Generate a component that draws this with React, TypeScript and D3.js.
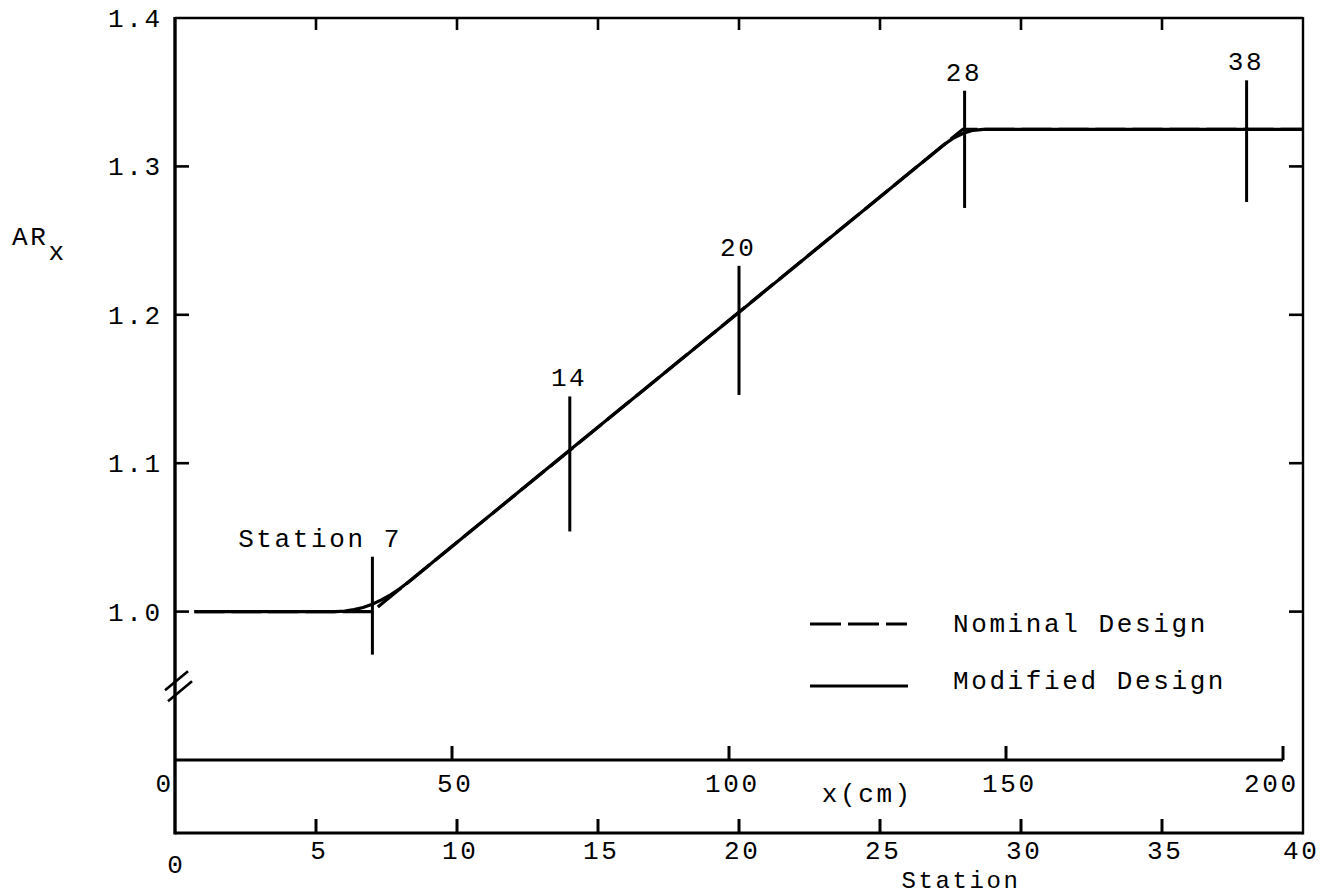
import React from 'react';
import * as d3 from 'd3';

// ---- data ----
const yTicks = [1.0, 1.1, 1.2, 1.3, 1.4];
const yTickLabels = ['1.0', '1.1', '1.2', '1.3', '1.4'];
const cmTicks = [0, 50, 100, 150, 200];
const stationTicks = [0, 5, 10, 15, 20, 25, 30, 35, 40];

// Nominal design (dashed): x in cm, AR_x
const nominalX = [3.5, 35.6, 142.2, 203.6];
const nominalY = [1.0, 1.0, 1.325, 1.325];

// Modified design (solid): rounded corners near stations 7 and 28
const modifiedX = [3.5, 29, 30.65, 32.3, 33.95, 35.6, 37.25, 38.9, 40.55, 42.2, 71, 101.6, 138.5, 140.35, 142.2, 144.05, 145.9, 203.6];
const modifiedY = [1.0, 1.0, 1.0003, 1.0013, 1.0028, 1.005, 1.0079, 1.0113, 1.0154, 1.0201, 1.108, 1.201, 1.3138, 1.3187, 1.3222, 1.3243, 1.325, 1.325];

// Station markers
const markerStations = [7, 14, 20, 28, 38];
const markerLabels = ['Station 7', '14', '20', '28', '38'];
const markerTop = [1.037, 1.145, 1.233, 1.351, 1.358];
const markerBottom = [0.971, 1.054, 1.146, 1.272, 1.276];

const FONT = '"Liberation Mono", "Courier New", monospace';

export default function App() {
  const left = 175;
  const right = 1303;
  const top = 18;
  const cmAxisY = 760;
  const stationAxisY = 833;

  const y = d3.scaleLinear().domain([0.9, 1.4]).range([cmAxisY, top]);
  const xCm = d3.scaleLinear().domain([0, 200]).range([left, 1283]);
  const xSt = d3.scaleLinear().domain([0, 40]).range([left, right]);

  const line = d3
    .line<[number, number]>()
    .x((d) => xCm(d[0]))
    .y((d) => y(d[1]));

  const nominal = nominalX.map((v, i) => [v, nominalY[i]] as [number, number]);
  const modified = modifiedX.map((v, i) => [v, modifiedY[i]] as [number, number]);

  const breakY = y(0.953);
  const tickLen = 14;
  const fs = 26;
  const ls = 2.6;

  return (
    <svg
      width={1322}
      height={895}
      style={{ position: 'absolute', left: 0, top: 0, background: '#fff' }}
      fontFamily={FONT}
      fontSize={fs}
      letterSpacing={ls}
    >
      <rect x={0} y={0} width={1322} height={895} fill="#fff" />
      {/* frame */}
      <line x1={left} y1={top} x2={right} y2={top} stroke="#000" strokeWidth={2.6} />
      <line x1={left} y1={top - 1} x2={left} y2={stationAxisY + 1.5} stroke="#000" strokeWidth={3.4} />
      <line x1={right} y1={top - 1} x2={right} y2={stationAxisY + 1.5} stroke="#000" strokeWidth={2.4} />

      {/* top ticks at station positions */}
      {stationTicks.slice(1, -1).map((s) => (
        <line key={'tt' + s} x1={xSt(s)} x2={xSt(s)} y1={top} y2={top + 12} stroke="#000" strokeWidth={2.6} />
      ))}

      {/* left & right y ticks */}
      {yTicks.slice(0, -1).map((v) => (
        <g key={'yt' + v}>
          <line x1={left} x2={left + tickLen} y1={y(v)} y2={y(v)} stroke="#000" strokeWidth={2.6} />
          <line x1={right - tickLen} x2={right} y1={y(v)} y2={y(v)} stroke="#000" strokeWidth={2.6} />
        </g>
      ))}
      {yTicks.map((v, i) => (
        <text key={'yl' + v} x={160 + ls} y={y(v) + 9} textAnchor="end">
          {yTickLabels[i]}
        </text>
      ))}

      {/* y axis title */}
      <text x={12} y={245}>
        AR
        <tspan dy={15}>x</tspan>
      </text>

      {/* axis break marks */}
      <line x1={left - 10} y1={breakY + 9} x2={left + 13} y2={breakY - 10} stroke="#000" strokeWidth={2.6} />
      <line x1={left - 7} y1={breakY + 20} x2={left + 17} y2={breakY} stroke="#000" strokeWidth={2.6} />

      {/* cm axis */}
      <line x1={left} x2={xCm(200)} y1={cmAxisY} y2={cmAxisY} stroke="#000" strokeWidth={3} />
      {cmTicks.slice(1).map((c) => (
        <line key={'ct' + c} x1={xCm(c)} x2={xCm(c)} y1={cmAxisY} y2={cmAxisY - tickLen} stroke="#000" strokeWidth={3} />
      ))}
      {cmTicks.map((c, i) => {
        let anchor: 'start' | 'middle' | 'end' = 'middle';
        let xx = xCm(c) + 2 + ls / 2;
        if (i === 0) {
          anchor = 'end';
          xx = xCm(c) - 4 + ls;
        } else if (i === cmTicks.length - 1) {
          anchor = 'end';
          xx = xCm(c) + 13 + ls;
        }
        return (
          <text key={'cl' + c} x={xx} y={cmAxisY + 32} textAnchor={anchor}>
            {String(c)}
          </text>
        );
      })}
      <text x={866 + ls / 2} y={802} textAnchor="middle">x(cm)</text>

      {/* station axis */}
      <line x1={left} x2={right} y1={stationAxisY} y2={stationAxisY} stroke="#000" strokeWidth={3} />
      {stationTicks.slice(1, -1).map((s) => (
        <line key={'st' + s} x1={xSt(s)} x2={xSt(s)} y1={stationAxisY} y2={stationAxisY - tickLen} stroke="#000" strokeWidth={3} />
      ))}
      {stationTicks.map((s, i) => (
        <text
          key={'sl' + s}
          x={xSt(s) + ls / 2 + (i === 0 ? 0 : i === stationTicks.length - 1 ? -3 : 2)}
          y={i === 0 ? 873 : 859}
          textAnchor="middle"
        >
          {String(s)}
        </text>
      ))}
      <text x={961} y={887.5} fontSize={24} textAnchor="middle">Station</text>

      {/* curves */}
      <path d={line(nominal) || ''} fill="none" stroke="#000" strokeWidth={3.2} strokeDasharray="30 7" />
      <path d={line(modified) || ''} fill="none" stroke="#000" strokeWidth={3.2} strokeLinejoin="round" />

      {/* station markers */}
      {markerStations.map((s, i) => {
        const xx = xSt(s);
        const first = i === 0;
        return (
          <g key={'m' + s}>
            <line x1={xx} x2={xx} y1={y(markerTop[i])} y2={y(markerBottom[i])} stroke="#000" strokeWidth={3} />
            <text
              x={first ? xx + 27 + ls : xx - 2 + ls / 2}
              y={y(markerTop[i]) - 10}
              textAnchor={first ? 'end' : 'middle'}
            >
              {markerLabels[i]}
            </text>
          </g>
        );
      })}

      {/* legend */}
      <line x1={810} x2={907} y1={624} y2={624} stroke="#000" strokeWidth={3.2} strokeDasharray="31 7" />
      <text x={953} y={632}>Nominal Design</text>
      <line x1={810} x2={908} y1={686} y2={686} stroke="#000" strokeWidth={3.2} />
      <text x={953} y={689}>Modified Design</text>
    </svg>
  );
}
